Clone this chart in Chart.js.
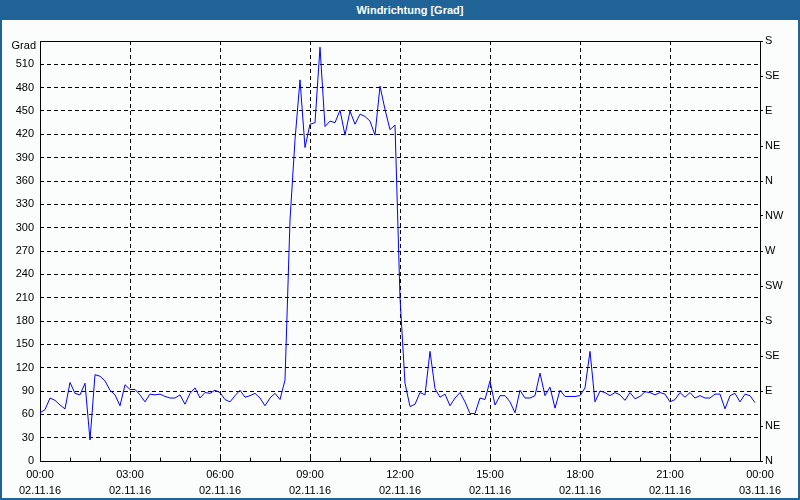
<!DOCTYPE html>
<html>
<head>
<meta charset="utf-8">
<script src="https://cdn.jsdelivr.net/npm/chart.js@4/dist/chart.umd.min.js"></script>
<style>
html,body{margin:0;padding:0;background:#fbfdfc;}
#bg{position:absolute;left:0;top:0;width:800px;height:500px;background:#fbfdfc;z-index:0;}
#wrap{position:absolute;left:0;top:20px;width:800px;height:480px;z-index:1;}
#border{position:absolute;left:0;top:0;width:800px;height:500px;box-sizing:border-box;border-left:2px solid #1f6397;border-right:2px solid #1f6397;border-bottom:2px solid #1f6397;z-index:2;pointer-events:none;}
#title{position:absolute;left:0;top:0;width:800px;height:20px;box-sizing:border-box;padding-left:20px;background:#1f6397;color:#fff;font:bold 11px "Liberation Sans",Arial,sans-serif;line-height:20px;text-align:center;z-index:3;}
</style>
</head>
<body>
<div id="bg"></div>
<div id="wrap"><canvas id="c" width="800" height="480"></canvas></div>
<div id="border"></div>
<div id="title">Windrichtung [Grad]</div>
<script>
// ---- data ----
const stepMinutes = 10;
const windDir = [
  62, 66, 81, 78, 72, 67, 101, 87, 85, 100,
  27, 111, 109, 103, 91, 85, 71, 98, 92, 92,
  85, 76, 86, 85, 86, 83, 81, 81, 85, 73,
  87, 94, 81, 88, 87, 91, 88, 79, 76, 84,
  91, 82, 84, 87, 81, 71, 81, 87, 79, 104,
  310, 413, 490, 403, 433, 435, 532, 430, 437, 435,
  451, 419, 450, 433, 446, 443, 437, 419, 482, 452,
  426, 432, 210, 100, 70, 73, 88, 85, 141, 93,
  82, 86, 71, 81, 88, 76, 61, 61, 81, 79,
  103, 72, 84, 84, 76, 62, 91, 81, 81, 84,
  113, 84, 95, 68, 91, 83, 83, 83, 84, 94,
  141, 76, 90, 88, 84, 88, 85, 78, 88, 80,
  83, 89, 88, 85, 88, 86, 76, 79, 88, 82,
  88, 81, 84, 81, 81, 86, 86, 67, 84, 87,
  76, 86, 84, 75
];
const timeTickLabels = ['00:00','03:00','06:00','09:00','12:00','15:00','18:00','21:00','00:00'];
const dateTickLabels = ['02.11.16','02.11.16','02.11.16','02.11.16','02.11.16','02.11.16','02.11.16','02.11.16','03.11.16'];
const directionLabels = ['N','NE','E','SE','S','SW','W','NW','N','NE','E','SE','S'];
const axisTitle = 'Grad';
const titleText = 'Windrichtung [Grad]';

const FONT = {family:'"Liberation Sans", Arial, sans-serif', size:11};

const framePlugin = {
  id:'frame',
  beforeDatasetsDraw(chart){
    const {ctx, chartArea:a} = chart;
    ctx.save();
    ctx.setLineDash([]);
    ctx.strokeStyle = '#000';
    ctx.lineWidth = 1;
    const L = Math.round(a.left)+0.5, T = Math.round(a.top)+0.5, R = Math.round(a.right)+0.5, B = Math.round(a.bottom)+0.5;
    ctx.strokeRect(L, T, R-L, B-T);
    const xs = chart.scales.x;
    for (let h = 0; h <= 24; h++){
      const px = Math.round(xs.getPixelForValue(h*60))+0.5;
      ctx.beginPath(); ctx.moveTo(px, B); ctx.lineTo(px, B-4); ctx.stroke();
    }
    ctx.fillStyle = '#000';
    ctx.font = '11px "Liberation Sans", Arial, sans-serif';
    ctx.textAlign = 'right';
    ctx.textBaseline = 'middle';
    ctx.fillText(axisTitle, a.left-4, a.top+5);
    ctx.restore();
  }
};

document.getElementById('title').textContent = titleText;

new Chart(document.getElementById('c'), {
  type:'line',
  data:{
    datasets:[{
      data: windDir.map((v,i)=>({x:i*stepMinutes, y:v})),
      borderColor:'#0000ff',
      borderWidth:1,
      pointRadius:0,
      tension:0,
      fill:false,
      xAxisID:'x',
      yAxisID:'y'
    }]
  },
  options:{
    animation:false,
    responsive:false,
    devicePixelRatio:1,
    events:[],
    layout:{padding:{top:21,left:0,right:0,bottom:0}},
    plugins:{legend:{display:false},tooltip:{enabled:false},title:{display:false}},
    scales:{
      x:{
        type:'linear', position:'bottom', min:0, max:1440,
        afterBuildTicks: s => { s.ticks = timeTickLabels.map((_,i)=>({value:i*180})); },
        ticks:{autoSkip:false, maxRotation:0, minRotation:0, padding:6, color:'#000',
          font:{...FONT, lineHeight:1.45},
          callback:(v)=>{ const k=Math.round(v/180); return [timeTickLabels[k], dateTickLabels[k]]; }},
        grid:{color:'#000', lineWidth:1, drawTicks:false},
        border:{display:false, dash:[4,3]},
        afterFit: s => { s.height = 39; }
      },
      y:{
        position:'left', min:0, max:540,
        ticks:{stepSize:30, padding:6, color:'#000', font:FONT,
          callback:(v)=> v===540 ? '' : String(v)},
        grid:{color:'#000', lineWidth:1, drawTicks:false},
        border:{display:false, dash:[4,3]},
        afterFit: s => { s.width = 40; }
      },
      y2:{
        position:'right', min:0, max:540,
        ticks:{stepSize:45, padding:2, color:'#000', font:FONT,
          callback:(v)=> directionLabels[Math.round(v/45)]},
        grid:{drawOnChartArea:false, drawTicks:true, tickLength:3, color:'#000', lineWidth:1},
        border:{display:false},
        afterFit: s => { s.width = 40; }
      }
    }
  },
  plugins:[framePlugin]
});
</script>
</body>
</html>
